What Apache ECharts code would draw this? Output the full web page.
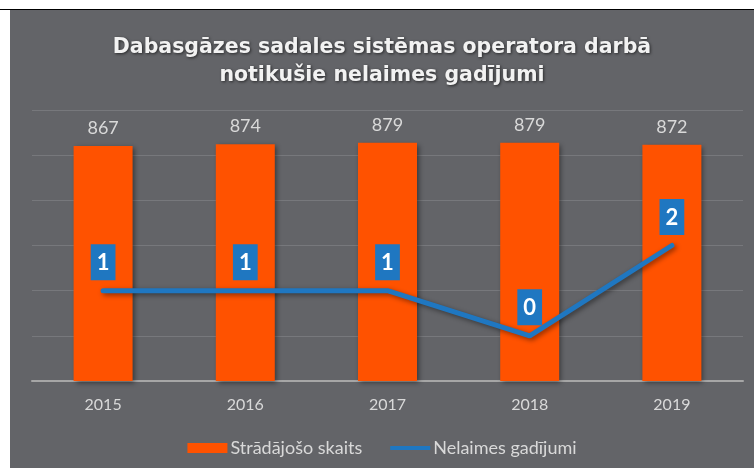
<!DOCTYPE html>
<html>
<head>
<meta charset="utf-8">
<script src="https://cdn.jsdelivr.net/npm/echarts@6/dist/echarts.min.js"></script>
<style>
  html, body { margin: 0; padding: 0; background: #fff; }
  #wrap { position: relative; width: 754px; height: 468px; overflow: hidden; }
  #topline { position: absolute; left: 0; top: 9px; width: 754px; height: 1px; background: #000; }
  #chart { position: absolute; left: 10px; top: 10px; width: 744px; height: 458px; }
</style>
</head>
<body>
<div id="wrap">
  <div id="topline"></div>
  <div id="chart"></div>
</div>
<script>
// chart data
const years = ['2015', '2016', '2017', '2018', '2019'];
const workers = [867, 874, 879, 879, 872];
const accidents = [1, 1, 1, 0, 2];
const seriesNames = ['Strādājošo skaits', 'Nelaimes gadījumi'];

const textColor = '#d9d9d9';
const font = 'Lato, "Open Sans", sans-serif';

let myChart = echarts.init(document.getElementById('chart'));
myChart.setOption({
  backgroundColor: '#636468',
  animation: false,
  title: {
    text: 'Dabasgāzes sadales sistēmas operatora darbā\nnotikušie nelaimes gadījumi',
    left: 'center',
    top: 19,
    textStyle: {
      color: '#f2f2f2',
      fontFamily: '"DejaVu Sans", sans-serif',
      fontWeight: 'bold',
      fontSize: 20.5,
      lineHeight: 28,
      textShadowColor: 'rgba(0,0,0,0.6)',
      textShadowBlur: 3,
      textShadowOffsetX: 1,
      textShadowOffsetY: 1
    }
  },
  legend: {
    top: 424,
    left: 'center',
    itemGap: 28,
    itemWidth: 40,
    itemHeight: 10,
    textStyle: { color: textColor, fontFamily: font, fontSize: 18, padding: [0, 0, 0, -2] },
    data: [
      { name: seriesNames[0], icon: 'rect' },
      { name: seriesNames[1], icon: 'path://M0,0 L40,0 L40,4 L0,4 Z' }
    ]
  },
  grid: { left: 22, right: 11, top: 100, bottom: 87 },
  xAxis: {
    type: 'category',
    data: years,
    axisLine: { lineStyle: { color: '#a6a6a6', width: 2 } },
    axisTick: { show: false },
    axisLabel: { color: textColor, fontFamily: font, fontSize: 16, margin: 16 }
  },
  yAxis: [
    {
      type: 'value',
      min: 0,
      max: 1000,
      show: false,
      splitLine: { show: false }
    },
    {
      type: 'value',
      min: -1,
      max: 5,
      interval: 1,
      position: 'left',
      axisLabel: { show: false },
      axisLine: { show: false },
      axisTick: { show: false },
      splitLine: { lineStyle: { color: '#77787c', width: 1 } }
    }
  ],
  series: [
    {
      name: seriesNames[0],
      type: 'bar',
      yAxisIndex: 0,
      barWidth: 59,
      data: workers,
      itemStyle: {
        color: '#ff5200',
        shadowColor: 'rgba(0,0,0,0.45)',
        shadowBlur: 5,
        shadowOffsetX: 2,
        shadowOffsetY: 2
      },
      label: {
        show: true,
        position: 'top',
        distance: 9,
        color: textColor,
        fontFamily: font,
        fontSize: 18
      },
      z: 2
    },
    {
      name: seriesNames[1],
      type: 'line',
      yAxisIndex: 1,
      data: accidents,
      symbol: 'circle',
      symbolSize: 1,
      lineStyle: {
        color: '#1f77c1',
        width: 5,
        cap: 'round',
        shadowColor: 'rgba(0,0,0,0.45)',
        shadowBlur: 5,
        shadowOffsetX: 2,
        shadowOffsetY: 2
      },
      itemStyle: { color: '#1f77c1' },
      label: {
        show: true,
        position: 'top',
        distance: 10,
        color: '#ffffff',
        fontFamily: font,
        fontWeight: 'bold',
        fontSize: 22,
        lineHeight: 24,
        backgroundColor: '#1f77c1',
        padding: [7, 6, 5, 6]
      },
      z: 3
    }
  ]
});
</script>
</body>
</html>
